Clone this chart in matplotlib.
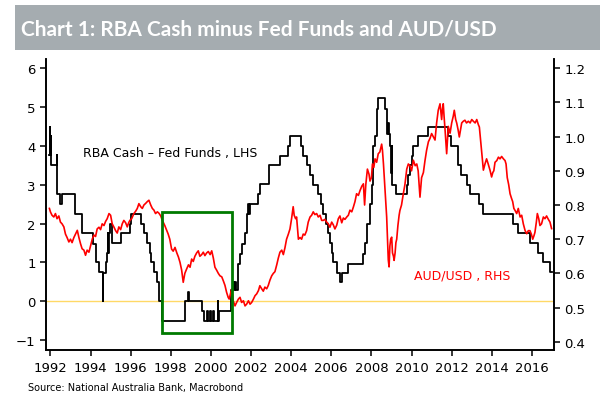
import matplotlib
matplotlib.use("Agg")
import matplotlib.pyplot as plt
from matplotlib.patches import Rectangle
from matplotlib.ticker import FormatStrFormatter

# RBA cash rate minus Fed funds rate (LHS, step series)
spread_t = [1991.95, 1991.98, 1992.00, 1992.02, 1992.04, 1992.31, 1992.35, 1992.47, 1992.59,
            1993.25, 1993.59, 1994.13, 1994.25, 1994.40, 1994.60, 1994.64, 1994.75, 1994.83,
            1994.86, 1994.88, 1994.90, 1994.95, 1995.08, 1995.53, 1995.96, 1996.03, 1996.53,
            1996.66, 1996.83, 1996.95, 1997.03, 1997.16, 1997.33, 1997.41, 1997.57, 1998.72,
            1998.87, 1998.90, 1999.54, 1999.66, 1999.80, 1999.86, 1999.96, 2000.00, 2000.10,
            2000.15, 2000.33, 2000.36, 2000.42, 2001.00, 2001.11, 2001.15, 2001.20, 2001.25,
            2001.36, 2001.45, 2001.53, 2001.70, 2001.78, 2001.82, 2001.85, 2001.88, 2001.95,
            2002.36, 2002.44, 2002.91, 2003.44, 2003.86, 2003.94, 2004.49, 2004.60, 2004.77,
            2004.94, 2005.11, 2005.35, 2005.49, 2005.60, 2005.72, 2005.82, 2005.93, 2006.02,
            2006.10, 2006.27, 2006.45, 2006.55, 2006.85, 2007.60, 2007.68, 2007.76, 2007.93,
            2008.04, 2008.10, 2008.18, 2008.26, 2008.34, 2008.67, 2008.80, 2008.83, 2008.86,
            2008.92, 2008.99, 2009.02, 2009.05, 2009.22, 2009.76, 2009.84, 2009.92, 2010.00,
            2010.09, 2010.33, 2010.84, 2011.84, 2011.95, 2012.34, 2012.45, 2012.75, 2012.91,
            2013.38, 2013.58, 2015.07, 2015.32, 2015.90, 2016.32, 2016.57, 2016.90, 2016.98]
spread_v = [3.76, 4.48, 3.76, 4.25, 3.52, 3.77, 2.77, 2.51, 2.77,
            2.25, 1.75, 1.48, 1.00, 0.75, 0.00, 0.72, 1.00, 1.25,
            1.75, 1.25, 1.75, 1.99, 1.50, 1.75, 2.00, 2.25, 2.00,
            1.75, 1.50, 1.25, 1.00, 0.75, 0.50, 0.00, -0.50, 0.00,
            0.23, 0.00, -0.25, -0.50, -0.25, -0.50, -0.25, -0.50, -0.25,
            -0.50, 0.00, -0.50, -0.25, 0.28, 0.50, 0.28, 0.50, 0.28,
            0.96, 1.22, 1.48, 1.75, 1.99, 2.25, 2.50, 2.25, 2.51,
            2.77, 3.02, 3.50, 3.75, 4.00, 4.25, 4.00, 3.75, 3.50,
            3.25, 3.00, 2.75, 2.50, 2.25, 2.00, 1.75, 1.50, 1.25,
            1.00, 0.72, 0.49, 0.72, 0.96, 1.22, 1.50, 2.00, 2.50,
            3.00, 4.00, 4.25, 4.95, 5.24, 4.95, 4.30, 4.60, 4.30,
            4.00, 3.30, 4.00, 3.00, 2.77, 3.00, 3.24, 3.50, 3.75,
            4.00, 4.25, 4.50, 4.25, 4.00, 3.50, 3.25, 3.00, 2.75,
            2.50, 2.25, 2.00, 1.75, 1.50, 1.25, 1.00, 0.76, 0.76]

# AUD/USD (RHS)
aud_t = [1991.95, 1992.00, 1992.08, 1992.17, 1992.25, 1992.33, 1992.42, 1992.50, 1992.58, 1992.67,
         1992.75, 1992.83, 1992.92, 1993.00, 1993.08, 1993.17, 1993.25, 1993.34, 1993.42, 1993.50,
         1993.58, 1993.67, 1993.75, 1993.83, 1993.92, 1994.00, 1994.09, 1994.17, 1994.25, 1994.33,
         1994.42, 1994.50, 1994.58, 1994.67, 1994.75, 1994.83, 1994.92, 1995.00, 1995.08, 1995.17,
         1995.25, 1995.33, 1995.41, 1995.50, 1995.58, 1995.66, 1995.75, 1995.83, 1995.90, 1995.96,
         1996.05, 1996.16, 1996.25, 1996.33, 1996.41, 1996.50, 1996.58, 1996.66, 1996.75, 1996.83,
         1996.91, 1997.00, 1997.08, 1997.16, 1997.24, 1997.33, 1997.41, 1997.50, 1997.58, 1997.70,
         1997.80, 1997.87, 1997.95, 1998.04, 1998.12, 1998.21, 1998.30, 1998.38, 1998.46, 1998.54,
         1998.62, 1998.70, 1998.79, 1998.88, 1998.96, 1999.04, 1999.12, 1999.20, 1999.29, 1999.37,
         1999.45, 1999.54, 1999.62, 1999.70, 1999.79, 1999.87, 1999.96, 2000.04, 2000.12, 2000.20,
         2000.28, 2000.37, 2000.45, 2000.54, 2000.62, 2000.70, 2000.78, 2000.86, 2000.91, 2000.97,
         2001.03, 2001.11, 2001.20, 2001.28, 2001.37, 2001.45, 2001.53, 2001.62, 2001.70, 2001.78,
         2001.87, 2001.95, 2002.03, 2002.12, 2002.20, 2002.28, 2002.37, 2002.44, 2002.53, 2002.61,
         2002.69, 2002.78, 2002.86, 2002.94, 2003.03, 2003.11, 2003.19, 2003.28, 2003.36, 2003.44,
         2003.53, 2003.61, 2003.69, 2003.77, 2003.86, 2003.94, 2004.02, 2004.10, 2004.15, 2004.22,
         2004.27, 2004.36, 2004.44, 2004.52, 2004.60, 2004.68, 2004.77, 2004.85, 2004.94, 2005.02,
         2005.10, 2005.18, 2005.27, 2005.35, 2005.44, 2005.52, 2005.60, 2005.68, 2005.77, 2005.85,
         2005.93, 2006.02, 2006.10, 2006.18, 2006.27, 2006.35, 2006.43, 2006.52, 2006.60, 2006.68,
         2006.77, 2006.85, 2006.93, 2007.02, 2007.10, 2007.18, 2007.26, 2007.35, 2007.43, 2007.52,
         2007.60, 2007.66, 2007.72, 2007.80, 2007.88, 2007.93, 2008.00, 2008.05, 2008.12, 2008.18,
         2008.26, 2008.34, 2008.42, 2008.51, 2008.55, 2008.60, 2008.65, 2008.70, 2008.76, 2008.80,
         2008.84, 2008.88, 2008.92, 2008.96, 2009.01, 2009.05, 2009.10, 2009.13, 2009.18, 2009.22,
         2009.26, 2009.32, 2009.38, 2009.42, 2009.50, 2009.59, 2009.67, 2009.76, 2009.84, 2009.92,
         2010.00, 2010.09, 2010.18, 2010.26, 2010.33, 2010.42, 2010.46, 2010.50, 2010.59, 2010.67,
         2010.75, 2010.84, 2010.92, 2011.00, 2011.08, 2011.17, 2011.25, 2011.33, 2011.42, 2011.50,
         2011.54, 2011.58, 2011.62, 2011.67, 2011.75, 2011.80, 2011.83, 2011.92, 2012.00, 2012.08,
         2012.13, 2012.20, 2012.25, 2012.32, 2012.38, 2012.44, 2012.50, 2012.58, 2012.66, 2012.74,
         2012.83, 2012.92, 2013.00, 2013.08, 2013.17, 2013.25, 2013.33, 2013.38, 2013.44, 2013.49,
         2013.54, 2013.58, 2013.66, 2013.74, 2013.82, 2013.91, 2013.99, 2014.05, 2014.10, 2014.16,
         2014.25, 2014.33, 2014.41, 2014.49, 2014.58, 2014.66, 2014.71, 2014.77, 2014.84, 2014.91,
         2014.98, 2015.04, 2015.10, 2015.16, 2015.24, 2015.32, 2015.41, 2015.49, 2015.57, 2015.66,
         2015.74, 2015.82, 2015.90, 2015.97, 2016.04, 2016.10, 2016.15, 2016.22, 2016.27, 2016.34,
         2016.40, 2016.48, 2016.57, 2016.65, 2016.73, 2016.80, 2016.90, 2016.98]
aud_v = [0.790, 0.780, 0.770, 0.765, 0.775, 0.760, 0.768, 0.750, 0.745, 0.736,
         0.715, 0.705, 0.692, 0.700, 0.690, 0.705, 0.715, 0.726, 0.705, 0.687,
         0.672, 0.668, 0.653, 0.668, 0.662, 0.680, 0.701, 0.712, 0.708, 0.730,
         0.735, 0.728, 0.745, 0.740, 0.752, 0.760, 0.775, 0.770, 0.745, 0.735,
         0.725, 0.718, 0.736, 0.728, 0.745, 0.755, 0.748, 0.736, 0.748, 0.755,
         0.760, 0.775, 0.782, 0.790, 0.804, 0.795, 0.790, 0.800, 0.805, 0.810,
         0.814, 0.800, 0.790, 0.785, 0.775, 0.780, 0.776, 0.768, 0.755, 0.740,
         0.725, 0.715, 0.700, 0.671, 0.665, 0.676, 0.660, 0.648, 0.632, 0.610,
         0.574, 0.600, 0.613, 0.625, 0.618, 0.642, 0.635, 0.650, 0.660, 0.666,
         0.650, 0.655, 0.662, 0.652, 0.660, 0.664, 0.655, 0.666, 0.645, 0.618,
         0.610, 0.600, 0.593, 0.590, 0.578, 0.565, 0.545, 0.530, 0.525, 0.540,
         0.554, 0.520, 0.505, 0.515, 0.525, 0.530, 0.515, 0.520, 0.505, 0.510,
         0.520, 0.510, 0.515, 0.525, 0.535, 0.540, 0.550, 0.564, 0.555, 0.548,
         0.560, 0.555, 0.565, 0.580, 0.593, 0.600, 0.605, 0.625, 0.645, 0.662,
         0.668, 0.655, 0.675, 0.700, 0.715, 0.730, 0.760, 0.795, 0.770, 0.760,
         0.765, 0.700, 0.705, 0.700, 0.715, 0.712, 0.725, 0.750, 0.765, 0.770,
         0.780, 0.772, 0.775, 0.765, 0.770, 0.755, 0.755, 0.758, 0.750, 0.745,
         0.735, 0.750, 0.742, 0.730, 0.741, 0.760, 0.768, 0.748, 0.762, 0.758,
         0.765, 0.770, 0.785, 0.780, 0.794, 0.810, 0.833, 0.828, 0.842, 0.855,
         0.862, 0.800, 0.860, 0.905, 0.890, 0.870, 0.880, 0.920, 0.910, 0.935,
         0.925, 0.950, 0.955, 0.978, 0.960, 0.920, 0.870, 0.820, 0.765, 0.700,
         0.640, 0.619, 0.680, 0.700, 0.706, 0.660, 0.650, 0.638, 0.660, 0.690,
         0.700, 0.740, 0.770, 0.784, 0.800, 0.833, 0.860, 0.905, 0.920, 0.915,
         0.900, 0.931, 0.915, 0.920, 0.900, 0.823, 0.850, 0.880, 0.895, 0.930,
         0.960, 0.985, 0.995, 1.009, 1.000, 0.990, 1.040, 1.077, 1.096, 1.050,
         1.080, 1.096, 1.060, 1.020, 0.950, 1.000, 1.030, 1.010, 1.040, 1.060,
         1.077, 1.050, 1.040, 1.020, 0.999, 1.020, 1.040, 1.045, 1.048, 1.040,
         1.045, 1.040, 1.050, 1.045, 1.040, 1.050, 1.035, 1.028, 0.990, 0.960,
         0.930, 0.902, 0.920, 0.935, 0.920, 0.902, 0.882, 0.895, 0.900, 0.925,
         0.930, 0.940, 0.935, 0.942, 0.935, 0.930, 0.920, 0.880, 0.860, 0.833,
         0.820, 0.810, 0.790, 0.784, 0.775, 0.790, 0.765, 0.770, 0.745, 0.725,
         0.716, 0.725, 0.725, 0.715, 0.700, 0.710, 0.720, 0.750, 0.775, 0.760,
         0.740, 0.745, 0.765, 0.760, 0.768, 0.760, 0.750, 0.731]

left_ticks = [-1, 0, 1, 2, 3, 4, 5, 6]
right_ticks = [0.4, 0.5, 0.6, 0.7, 0.8, 0.9, 1.0, 1.1, 1.2]
year_ticks = list(range(1992, 2017, 2))

fig = plt.figure(figsize=(6.08, 4.06), dpi=100)

# grey title bar
fig.patches.append(Rectangle((15 / 608, 1 - 51 / 406), 585 / 608, 45 / 406,
                             transform=fig.transFigure, facecolor="#a5acb0",
                             edgecolor="none", zorder=0))
fig.text(21 / 608, 1 - 29 / 406, "Chart 1: RBA Cash minus Fed Funds and AUD/USD",
         color="white", fontsize=15, fontweight="bold",
         family=["Lato", "DejaVu Sans"], va="center", ha="left")

ax1 = fig.add_axes([46 / 608, 1 - 351 / 406, 508 / 608, 291 / 406])
ax2 = ax1.twinx()

ax1.axhline(0, color="#ffd966", lw=1, zorder=1)
ax1.plot(spread_t, spread_v, drawstyle="steps-post", color="black", lw=1.3, zorder=2)
ax2.plot(aud_t, aud_v, color="red", lw=1.2)

ax2.add_patch(Rectangle((1997.55, -0.82), 3.48, 3.12, fill=False, edgecolor="#007a00",
                        lw=2, transform=ax1.transData, zorder=5))

ax1.text(1993.62, 3.84, "RBA Cash \u2013 Fed Funds , LHS", fontsize=9, color="black",
         va="center", ha="left")
ax1.text(2010.12, 0.67, "AUD/USD , RHS", fontsize=9, color="red", va="center", ha="left")

ax1.set_xlim(1991.78, 2017.1)
ax1.set_ylim(-1.26, 6.24)
ax2.set_ylim(0.376, 1.227)
ax1.set_xticks(year_ticks)
ax1.set_yticks(left_ticks)
ax2.set_yticks(right_ticks)
ax2.yaxis.set_major_formatter(FormatStrFormatter("%.1f"))

for ax in (ax1, ax2):
    ax.spines["top"].set_visible(False)
    for s in ax.spines.values():
        s.set_linewidth(1.2)
    ax.tick_params(length=4, width=1.1, labelsize=9.5, direction="out")
ax1.tick_params(axis="x", pad=4)

fig.text(28 / 608, 1 - 388 / 406, "Source: National Australia Bank, Macrobond",
         fontsize=7, color="black", va="center", ha="left")

fig.savefig("out.png", dpi=100)
